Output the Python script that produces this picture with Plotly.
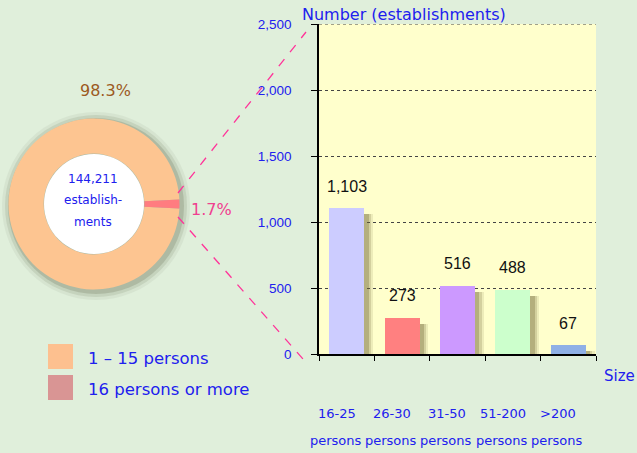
import plotly.graph_objects as go

# ---- data ----
categories = ["16-25", "26-30", "31-50", "51-200", ">200"]
counts = [1103, 273, 516, 488, 67]
bar_colors = ["#CCCCFF", "#FF8080", "#CC99FF", "#CCFFCC", "#8FB0E6"]

pie_labels = ["1 – 15 persons", "16 persons or more"]
pie_values = [98.3, 1.7]
pie_colors = ["#FDC591", "#FF7C80"]
legend_colors = ["#FDC08F", "#D99594"]
total_text = ["144,211", "establish-", "ments"]

W, H = 637, 453
BLUE = "#2020EE"
FONT = "DejaVu Sans"
NUMFONT = "Liberation Sans"
BG = "#E0EFDB"


def px(x):
    return x / W


def py(y):
    return 1 - y / H


fig = go.Figure()

# bar shadows (soft)
for dx, alpha in [(0.16, 0.12), (0.12, 0.2), (0.08, 0.3)]:
    fig.add_trace(go.Bar(
        x=categories, y=counts, base=-45,
        width=0.63, offset=-0.315 + dx,
        marker=dict(color=f"rgba(110,100,50,{alpha})", line=dict(width=0)),
        hoverinfo="skip", showlegend=False,
    ))
# bars
fig.add_trace(go.Bar(
    x=categories, y=counts,
    width=0.63, offset=-0.315,
    marker=dict(color=bar_colors, line=dict(width=0)),
    showlegend=False,
))

# donut
fig.add_trace(go.Pie(
    labels=pie_labels, values=pie_values,
    marker=dict(colors=pie_colors, line=dict(width=0)),
    hole=0.59, sort=False, direction="clockwise", rotation=93.06,
    textinfo="none", showlegend=False, automargin=False,
    domain=dict(x=[px(8.5), px(179.5)], y=[py(289.5), py(118.5)]),
))

shapes = []
# donut glow / shadow
cx, cy = 96, 206
for r, col in [(94, "rgba(195,210,190,0.35)"), (91, "rgba(165,180,155,0.35)"), (88, "rgba(140,150,125,0.4)")]:
    shapes.append(dict(type="circle", xref="paper", yref="paper", layer="below",
                       x0=px(cx - r), x1=px(cx + r), y0=py(cy + r), y1=py(cy - r),
                       fillcolor=col, line=dict(width=0)))
# white hole
shapes.append(dict(type="circle", xref="paper", yref="paper", layer="above",
                   x0=px(44), x1=px(144), y0=py(254), y1=py(154),
                   fillcolor="white", line=dict(width=0)))
# dashed connectors
shapes.append(dict(type="line", xref="paper", yref="paper",
                   x0=px(178), y0=py(193), x1=px(306), y1=py(32),
                   line=dict(color="#FF3399", width=1.3, dash="dash")))
shapes.append(dict(type="line", xref="paper", yref="paper",
                   x0=px(178), y0=py(217), x1=px(303), y1=py(359),
                   line=dict(color="#FF3399", width=1.3, dash="dash")))
# top border of plot area (dotted, like gridlines)
shapes.append(dict(type="line", xref="x domain", yref="y",
                   x0=0, x1=1, y0=2500, y1=2500,
                   line=dict(color="#444444", width=1, dash="dot")))
# legend swatches
for i, c in enumerate(legend_colors):
    y0 = 344 + i * 31
    shapes.append(dict(type="rect", xref="paper", yref="paper",
                       x0=px(48), x1=px(73), y0=py(y0 + 25), y1=py(y0),
                       fillcolor=c, line=dict(width=0)))

annotations = []
# value labels
for c, v in zip(categories, counts):
    annotations.append(dict(x=c, y=v, xref="x", yref="y", text=f"{v:,}",
                            showarrow=False, yshift=22, xanchor="center", yanchor="middle",
                            font=dict(family=NUMFONT, size=16, color="#111111")))
# category labels
for c in categories:
    annotations.append(dict(x=c, y=py(413), xref="x", yref="paper", text=c,
                            showarrow=False, xshift=-10, xanchor="center", yanchor="middle",
                            font=dict(family=FONT, size=13, color=BLUE)))
    annotations.append(dict(x=c, y=py(440), xref="x", yref="paper", text="persons",
                            showarrow=False, xshift=-11, xanchor="center", yanchor="middle",
                            font=dict(family=FONT, size=13, color=BLUE)))
# axis titles
annotations.append(dict(x=px(300), y=py(15), xref="paper", yref="paper",
                        text="Number (establishments)", showarrow=False,
                        xanchor="left", yanchor="middle",
                        font=dict(family=FONT, size=16, color=BLUE)))
annotations.append(dict(x=px(602), y=py(376), xref="paper", yref="paper",
                        text="Size", showarrow=False, xanchor="left", yanchor="middle",
                        font=dict(family=FONT, size=15, color=BLUE)))
# donut labels
annotations.append(dict(x=px(105), y=py(90), xref="paper", yref="paper",
                        text=f"{pie_values[0]}%", showarrow=False,
                        xanchor="center", yanchor="middle",
                        font=dict(family=FONT, size=16, color="#9C5A1E")))
annotations.append(dict(x=px(189), y=py(210), xref="paper", yref="paper",
                        text=f"{pie_values[1]}%", showarrow=False, xanchor="left",
                        yanchor="middle",
                        font=dict(family=FONT, size=16, color="#F0408F")))
for i, t in enumerate(total_text):
    annotations.append(dict(x=px(93), y=py(179 + 21.5 * i), xref="paper", yref="paper",
                            text=t, showarrow=False, xanchor="center", yanchor="middle",
                            font=dict(family=FONT, size=12, color=BLUE)))
# legend texts
for i, t in enumerate(pie_labels):
    annotations.append(dict(x=px(86), y=py(358 + 31 * i), xref="paper", yref="paper",
                            text=t, showarrow=False, xanchor="left", yanchor="middle",
                            font=dict(family=FONT, size=16.5, color=BLUE)))

fig.update_layout(
    template="none",
    width=W, height=H, autosize=False,
    margin=dict(l=0, r=0, t=0, b=0, pad=0, autoexpand=False),
    paper_bgcolor=BG, plot_bgcolor="#FFFFCC",
    barmode="overlay", bargap=0,
    shapes=shapes, annotations=annotations,
    showlegend=False,
    xaxis=dict(domain=[px(319), px(596)], type="category", range=[-0.5, 4.5],
               tickson="boundaries", ticks="outside", ticklen=5, tickcolor="black",
               showline=True, linecolor="black", linewidth=1.5, automargin=False,
               showticklabels=False, showgrid=False, zeroline=False, fixedrange=True),
    yaxis=dict(domain=[py(354), py(24)], range=[0, 2500], dtick=500,
               tickformat=",", ticks="outside", ticklen=6, tickcolor="black",
               showline=True, linecolor="black", linewidth=1.5, automargin=False,
               showgrid=True, gridcolor="#444444", griddash="dot", gridwidth=1,
               zeroline=False, ticklabelstandoff=17,
               tickfont=dict(family=NUMFONT, size=13.5, color=BLUE), fixedrange=True),
)

fig.write_html("out.html", config={"displayModeBar": False, "responsive": False},
               post_script="document.body.style.margin='0';document.body.style.overflow='hidden';")
